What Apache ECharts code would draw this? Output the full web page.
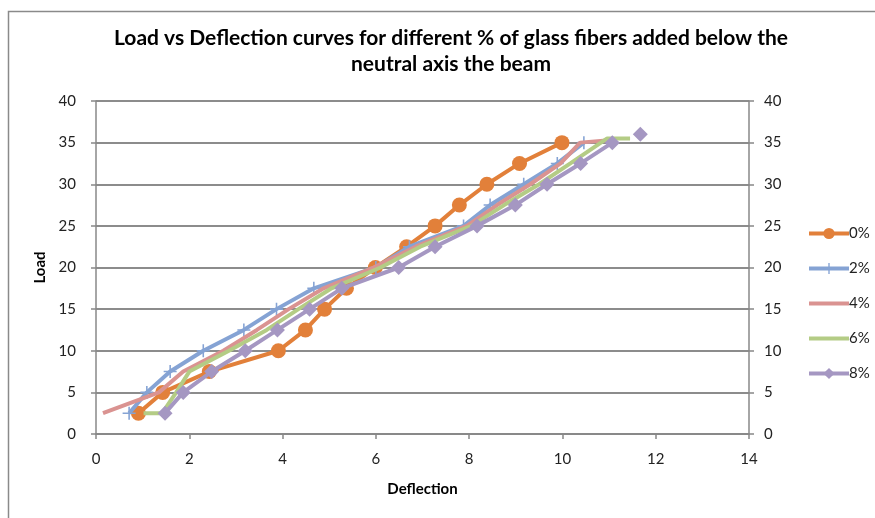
<!DOCTYPE html>
<html>
<head>
<meta charset="utf-8">
<script src="https://cdn.jsdelivr.net/npm/echarts@6/dist/echarts.min.js"></script>
<style>
html,body{margin:0;padding:0;background:#fff;}
#chart{width:875px;height:518px;}
</style>
</head>
<body>
<div id="chart"></div>
<script>
// Data
const seriesNames = ['0%', '2%', '4%', '6%', '8%'];
const loads0 = [2.5, 5, 7.5, 10, 12.5, 15, 17.5, 20, 22.5, 25, 27.5, 30, 32.5, 35];
const defl0  = [0.91, 1.43, 2.43, 3.91, 4.49, 4.90, 5.37, 5.99, 6.66, 7.27, 7.79, 8.38, 9.08, 9.99];
const loads2 = [2.5, 5, 7.5, 10, 12.5, 15, 17.5, 20, 22.5, 25, 27.5, 30, 32.5, 35];
const defl2  = [0.71, 1.09, 1.59, 2.30, 3.17, 3.87, 4.67, 6.00, 6.72, 7.88, 8.45, 9.17, 9.89, 10.46];
const loads4 = [2.5, 5, 7.5, 10, 12.5, 15, 17.5, 20, 22.5, 25, 27.5, 30, 32.5, 35, 35.3];
const defl4  = [0.15, 1.35, 1.87, 2.73, 3.45, 4.13, 4.88, 5.95, 6.85, 7.95, 8.60, 9.31, 9.96, 10.38, 11.0];
const loads6 = [2.5, 2.5, 5, 7.5, 10, 12.5, 15, 17.5, 20, 22.5, 25, 27.5, 30, 32.5, 35.5, 35.5];
const defl6  = [1.02, 1.42, 1.72, 2.00, 2.85, 3.66, 4.34, 5.05, 6.10, 6.95, 8.05, 8.75, 9.50, 10.17, 10.96, 11.45];
const loads8 = [2.5, 5, 7.5, 10, 12.5, 15, 17.5, 20, 22.5, 25, 27.5, 30, 32.5, 35, null, 36];
const defl8  = [1.48, 1.87, 2.48, 3.20, 3.89, 4.58, 5.27, 6.49, 7.27, 8.17, 8.99, 9.67, 10.39, 11.07, null, 11.67];
const xTicks = [0, 2, 4, 6, 8, 10, 12, 14];
const yTicks = [0, 5, 10, 15, 20, 25, 30, 35, 40];

function pairs(xs, ys) {
  return xs.map((x, i) => (x === null || ys[i] === null) ? '-' : [x, ys[i]]);
}

const colors = ['#E2803A', '#85A3D4', '#DA9391', '#B4CC85', '#A597C2'];
const plusPath = 'path://M4.4,0 L5.6,0 L5.6,4.4 L10,4.4 L10,5.6 L5.6,5.6 L5.6,10 L4.4,10 L4.4,5.6 L0,5.6 L0,4.4 L4.4,4.4 Z';
const FONT = 'Lato, "Open Sans", sans-serif';

const chart = echarts.init(document.getElementById('chart'), null, {renderer: 'canvas'});

const xyData = [pairs(defl0, loads0), pairs(defl2, loads2), pairs(defl4, loads4), pairs(defl6, loads6), pairs(defl8, loads8)];
const symbols = ['circle', plusPath, 'none', 'none', 'diamond'];
const symSizes = [15, 13, 0, 0, 15];

const series = seriesNames.map((n, i) => ({
  name: n,
  type: 'line',
  data: xyData[i],
  connectNulls: false,
  symbol: symbols[i],
  symbolSize: symSizes[i],
  showSymbol: symbols[i] !== 'none',
  lineStyle: {color: colors[i], width: 4},
  itemStyle: {color: colors[i]},
  emphasis: {disabled: true},
  animation: false,
  z: 2 + i
}));

const legendData = seriesNames.map((n, i) => symbols[i] === 'none'
  ? {name: n, itemStyle: {opacity: 0}}
  : {name: n});

const option = {
  backgroundColor: '#fff',
  animation: false,
  color: colors,
  title: {
    text: 'Load vs Deflection curves for different % of glass fibers added below the\nneutral axis the beam',
    left: 446,
    textAlign: 'center',
    top: 20,
    textStyle: {fontFamily: FONT, fontWeight: 'bold', fontSize: 21, lineHeight: 26, color: '#000'}
  },
  legend: {
    orient: 'vertical',
    left: 802,
    top: 221,
    itemWidth: 40,
    itemHeight: 14,
    itemGap: 20,
    data: legendData,
    lineStyle: {width: 4},
    textStyle: {fontFamily: FONT, fontSize: 15, color: '#222', padding: [0,0,0,-5]}
  },
  grid: {left: 96, right: 126, top: 101, bottom: 84, containLabel: false},
  xAxis: {
    type: 'value',
    min: xTicks[0], max: xTicks[xTicks.length - 1], interval: 2,
    name: 'Deflection',
    nameLocation: 'middle',
    nameGap: 48,
    nameTextStyle: {fontFamily: FONT, fontWeight: 'bold', fontSize: 15, color: '#000'},
    axisLine: {lineStyle: {color: '#888', width: 1.5}},
    axisTick: {show: true, length: 5, lineStyle: {color: '#888', width: 1.5}},
    axisLabel: {fontFamily: FONT, fontSize: 15, color: '#222', margin: 18},
    splitLine: {show: false}
  },
  yAxis: [{
    type: 'value',
    min: yTicks[0], max: yTicks[yTicks.length - 1], interval: 5,
    name: 'Load',
    nameLocation: 'middle',
    nameGap: 42,
    nameRotate: 90,
    nameTextStyle: {fontFamily: FONT, fontWeight: 'bold', fontSize: 15, color: '#000'},
    axisLine: {show: true, lineStyle: {color: '#888', width: 1.5}},
    axisTick: {show: true, length: 5, lineStyle: {color: '#888', width: 1.5}},
    axisLabel: {fontFamily: FONT, fontSize: 15, color: '#222', margin: 20},
    splitLine: {show: true, lineStyle: {color: '#8c8c8c', width: 2}}
  }, {
    type: 'value',
    position: 'right',
    min: yTicks[0], max: yTicks[yTicks.length - 1], interval: 5,
    axisLine: {show: true, lineStyle: {color: '#888', width: 1.5}},
    axisTick: {show: true, length: 5, lineStyle: {color: '#888', width: 1.5}},
    axisLabel: {fontFamily: FONT, fontSize: 15, color: '#222', margin: 15},
    splitLine: {show: false}
  }],
  graphic: [{
    type: 'rect',
    shape: {x: 8.5, y: 11.5, width: 900, height: 600},
    style: {fill: null, stroke: '#8a8a8a', lineWidth: 1.5},
    silent: true
  }],
  series: series
};
chart.setOption(option);
</script>
</body>
</html>
